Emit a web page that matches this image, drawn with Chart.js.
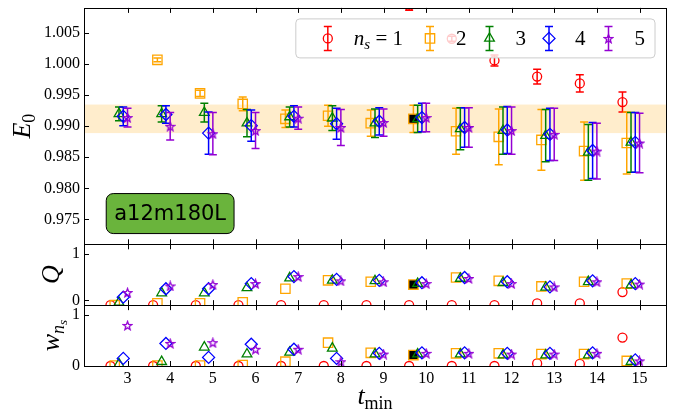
<!DOCTYPE html>
<html>
<head>
<meta charset="utf-8">
<script src="https://cdn.jsdelivr.net/npm/chart.js@4.4.1/dist/chart.umd.min.js"></script>
<style>
  html, body { margin: 0; padding: 0; background: #fff; }
  #wrap { width: 677px; height: 416px; }
</style>
</head>
<body>
<div id="wrap"><canvas id="chart" width="677" height="416"></canvas></div>
<script>
// t_min values and the n_s groups
const tMin = [3, 4, 5, 6, 7, 8, 9, 10, 11, 12, 13, 14, 15];
const nsLabels = ['1', '2', '3', '4', '5'];
const nsShift = [-0.4, -0.3, -0.2, -0.1, 0];
const nsColors = ['red', 'orange', 'green', 'blue', 'darkviolet'];

// E0 fits (null = above the plotted range)
const e0Ns1 = [null, null, null, null, null, null, null, 1.0094, 1.0041, 1.0006, 0.9980, 0.9969, 0.9939];
const e0Ns2 = [null, 1.0007, 0.9953, 0.9936, 0.9912, 0.9917, 0.9905, 0.9912, 0.9892, 0.9883, 0.9878, 0.9860, 0.9873];
const e0Ns3 = [0.9920, 0.9920, 0.9922, 0.9905, 0.9915, 0.9913, 0.9905, 0.9912, 0.9896, 0.9893, 0.9885, 0.9858, 0.9874];
const e0Ns4 = [0.9916, 0.9919, 0.9889, 0.9901, 0.9916, 0.9904, 0.9908, 0.9914, 0.9898, 0.9894, 0.9887, 0.9861, 0.9874];
const e0Ns5 = [0.9914, 0.9900, 0.9888, 0.9893, 0.9913, 0.9898, 0.9906, 0.9914, 0.9898, 0.9893, 0.9887, 0.9860, 0.9873];

const e0ErrNs1 = [null, null, null, null, null, null, null, 0.0007, 0.0004, 0.0009, 0.0012, 0.0014, 0.0016];
const e0ErrNs2 = [null, 0.0003, 0.0005, 0.0011, 0.0014, 0.0017, 0.0021, 0.0022, 0.0037, 0.0045, 0.0049, 0.0047, 0.0050];
const e0ErrNs3 = [0.0011, 0.0013, 0.0015, 0.0022, 0.0016, 0.0020, 0.0023, 0.0022, 0.0034, 0.0038, 0.0042, 0.0045, 0.0048];
const e0ErrNs4 = [0.0015, 0.0014, 0.0034, 0.0025, 0.0017, 0.0025, 0.0022, 0.0023, 0.0032, 0.0038, 0.0042, 0.0045, 0.0048];
const e0ErrNs5 = [0.0015, 0.0022, 0.0034, 0.0029, 0.0018, 0.0029, 0.0022, 0.0023, 0.0032, 0.0038, 0.0042, 0.0045, 0.0048];

// fit quality Q
const qNs1 = [-0.1, -0.1, -0.1, -0.1, -0.1, -0.1, -0.1, -0.1, -0.1, -0.1, -0.06, -0.06, 0.18];
const qNs2 = [-0.1, -0.06, -0.06, -0.04, 0.25, 0.43, 0.40, 0.34, 0.49, 0.42, 0.30, 0.40, 0.36];
const qNs3 = [-0.04, 0.16, 0.16, 0.27, 0.48, 0.43, 0.42, 0.36, 0.47, 0.38, 0.28, 0.40, 0.33];
const qNs4 = [0.07, 0.25, 0.25, 0.36, 0.51, 0.45, 0.43, 0.38, 0.49, 0.40, 0.29, 0.42, 0.36];
const qNs5 = [0.17, 0.31, 0.34, 0.36, 0.51, 0.42, 0.40, 0.36, 0.47, 0.36, 0.29, 0.40, 0.35];

// model weights w_ns
const wNs1 = [0, 0, 0, 0, 0, 0, 0, 0, 0, 0, 0.05, 0.04, 0.56];
const wNs2 = [0.01, 0.01, 0.01, 0.02, 0.085, 0.46, 0.26, 0.215, 0.25, 0.25, 0.235, 0.235, 0.10];
const wNs3 = [0.04, 0.085, 0.37, 0.235, 0.27, 0.35, 0.235, 0.235, 0.235, 0.215, 0.215, 0.215, 0.085];
const wNs4 = [0.15, 0.445, 0.17, 0.43, 0.33, 0.15, 0.25, 0.26, 0.26, 0.25, 0.25, 0.26, 0.12];
const wNs5 = [0.80, 0.445, 0.46, 0.33, 0.33, 0.085, 0.235, 0.25, 0.25, 0.235, 0.235, 0.25, 0.10];

const chosenNs = 1;      // index of n_s = 2
const chosenT = 10;
const band = [0.9889, 0.9935];

const xTicks = [3, 4, 5, 6, 7, 8, 9, 10, 11, 12, 13, 14, 15];
const e0Ticks = [0.975, 0.980, 0.985, 0.990, 0.995, 1.000, 1.005];
const qTicks = [0, 1];
const wTicks = [0, 1];
const fitLabel = 'a12m180L';

const e0Series = [e0Ns1, e0Ns2, e0Ns3, e0Ns4, e0Ns5];
const e0ErrSeries = [e0ErrNs1, e0ErrNs2, e0ErrNs3, e0ErrNs4, e0ErrNs5];
const qSeries = [qNs1, qNs2, qNs3, qNs4, qNs5];
const wSeries = [wNs1, wNs2, wNs3, wNs4, wNs5];

const makeStar = (size, color) => {
  const c = document.createElement('canvas');
  c.width = size;
  c.height = size;
  const g = c.getContext('2d');
  const cx = size / 2, cy = size / 2 + 0.5, R = size / 2 - 1, r = R * 0.42;
  g.beginPath();
  for (let k = 0; k < 10; k++) {
    const rad = k % 2 ? r : R;
    const a = -Math.PI / 2 + k * Math.PI / 5;
    g.lineTo(cx + rad * Math.cos(a), cy + rad * Math.sin(a));
  }
  g.closePath();
  g.strokeStyle = color;
  g.lineWidth = 1.3;
  g.stroke();
  return c;
};

const starImg = makeStar(11, 'darkviolet');
const markerStyles = ['circle', 'rect', 'triangle', 'rectRot', starImg];
const markerRadius = [4.5, 6.6, 5.6, 6, 5.5];

const panels = [
  { axis: 'yE', values: e0Series, errors: e0ErrSeries },
  { axis: 'yQ', values: qSeries, errors: null },
  { axis: 'yW', values: wSeries, errors: null },
];

const datasets = [];
panels.forEach((p) => {
  p.values.forEach((vals, i) => {
    datasets.push({
      label: 'n_s = ' + nsLabels[i],
      yAxisID: p.axis,
      data: tMin.map((t, k) => ({ x: t + nsShift[i], y: vals[k] })),
      errors: p.errors ? p.errors[i] : null,
      pointStyle: markerStyles[i],
      pointRadius: markerRadius[i],
      pointBorderColor: nsColors[i],
      pointBackgroundColor: tMin.map((t) => (i === chosenNs && t === chosenT ? 'black' : 'rgba(0,0,0,0)')),
      pointBorderWidth: 1.3,
      showLine: false,
      order: 5 - i,
    });
  });
});

// draw a marker shape for the legend (same shapes as the points)
const drawMarker = (ctx, i, x, y) => {
  const r = markerRadius[i];
  ctx.save();
  ctx.strokeStyle = nsColors[i];
  ctx.lineWidth = 1.3;
  ctx.beginPath();
  if (i === 0) {
    ctx.arc(x, y, r, 0, Math.PI * 2);
  } else if (i === 1) {
    const s = r * Math.SQRT1_2;
    ctx.rect(x - s, y - s, 2 * s, 2 * s);
  } else if (i === 2) {
    ctx.moveTo(x, y - r);
    ctx.lineTo(x + r * 0.866, y + r / 2);
    ctx.lineTo(x - r * 0.866, y + r / 2);
    ctx.closePath();
  } else if (i === 3) {
    ctx.moveTo(x - r, y);
    ctx.lineTo(x, y - r);
    ctx.lineTo(x + r, y);
    ctx.lineTo(x, y + r);
    ctx.closePath();
  }
  if (i === 4) ctx.drawImage(starImg, x - starImg.width / 2, y - starImg.height / 2);
  else ctx.stroke();
  ctx.restore();
};

const errBar = (ctx, x, yTop, yBot, color) => {
  ctx.strokeStyle = color;
  ctx.lineWidth = 1.5;
  ctx.beginPath();
  ctx.moveTo(x, yTop);
  ctx.lineTo(x, yBot);
  ctx.moveTo(x - 4, yTop);
  ctx.lineTo(x + 4, yTop);
  ctx.moveTo(x - 4, yBot);
  ctx.lineTo(x + 4, yBot);
  ctx.stroke();
};

// text with italic letters and subscripts: parts = [text, size, italic, dy]
const mathText = (ctx, parts, x, y, align) => {
  let total = 0;
  const widths = parts.map((p) => {
    ctx.font = (p[2] ? 'italic ' : '') + p[1] + "px 'Liberation Serif', serif";
    const w = ctx.measureText(p[0]).width;
    total += w;
    return w;
  });
  let cx = align === 'center' ? x - total / 2 : x;
  parts.forEach((p, k) => {
    ctx.font = (p[2] ? 'italic ' : '') + p[1] + "px 'Liberation Serif', serif";
    ctx.fillText(p[0], cx, y + (p[3] || 0));
    cx += widths[k];
  });
  return total;
};

const decor = {
  id: 'decor',
  beforeDatasetsDraw(chart) {
    const { ctx, chartArea: a, scales } = chart;
    const ys = scales.yE;
    ctx.save();
    ctx.fillStyle = 'rgba(255,165,0,0.2)';
    const y1 = ys.getPixelForValue(band[1]);
    const y2 = ys.getPixelForValue(band[0]);
    ctx.fillRect(a.left, y1, a.right - a.left, y2 - y1);
    ctx.restore();
  },
  beforeDatasetDraw(chart, args) {
    const { ctx, chartArea: a, scales } = chart;
    const ds = chart.data.datasets[args.index];
    const ys = scales[ds.yAxisID];
    ctx.save();
    ctx.beginPath();
    ctx.rect(a.left, ys.top, a.right - a.left, ys.bottom - ys.top);
    ctx.clip();
    if (ds.errors) {
      ds.data.forEach((pt, k) => {
        if (pt.y === null || ds.errors[k] === null) return;
        const x = scales.x.getPixelForValue(pt.x);
        errBar(ctx, x, ys.getPixelForValue(pt.y + ds.errors[k]), ys.getPixelForValue(pt.y - ds.errors[k]), ds.pointBorderColor);
      });
    }
  },
  afterDatasetDraw(chart) {
    chart.ctx.restore();
  },
  afterDraw(chart) {
    const { ctx, chartArea: a, scales } = chart;
    const px = (v) => Math.round(v) + 0.5;
    ctx.save();
    ctx.strokeStyle = '#000';
    ctx.lineWidth = 1;
    ['yE', 'yQ', 'yW'].forEach((id) => {
      const s = scales[id];
      ctx.strokeRect(px(a.left), px(s.top), Math.round(a.right - a.left), Math.round(s.bottom - s.top));
      ctx.beginPath();
      xTicks.forEach((t) => {
        const x = px(scales.x.getPixelForValue(t));
        ctx.moveTo(x, s.top);
        ctx.lineTo(x, s.top + 5);
        ctx.moveTo(x, s.bottom);
        ctx.lineTo(x, s.bottom - 5);
      });
      s.ticks.forEach((t) => {
        const y = px(s.getPixelForValue(t.value));
        ctx.moveTo(a.left, y);
        ctx.lineTo(a.left + 5, y);
      });
      ctx.stroke();
    });

    // axis titles
    ctx.fillStyle = '#000';
    ctx.textBaseline = 'alphabetic';
    const rot = (x, y, parts) => {
      ctx.save();
      ctx.translate(x, y);
      ctx.rotate(-Math.PI / 2);
      mathText(ctx, parts, 0, 0, 'center');
      ctx.restore();
    };
    rot(30, (scales.yE.top + scales.yE.bottom) / 2, [['E', 26, true], ['0', 18, false, 5]]);
    rot(59, (scales.yQ.top + scales.yQ.bottom) / 2, [['Q', 26, true]]);
    rot(59, (scales.yW.top + scales.yW.bottom) / 2, [['w', 26, true], ['n', 18, true, 5], ['s', 13, true, 8]]);
    mathText(ctx, [['t', 26, true], ['min', 18, false, 5]], (a.left + a.right) / 2, 404, 'center');

    // fit label box
    const e = scales.yE;
    const cx = a.left + 0.148 * (a.right - a.left);
    const cy = e.bottom - 0.13 * (e.bottom - e.top);
    ctx.font = "21px 'DejaVu Sans', sans-serif";
    const tw = ctx.measureText(fitLabel).width;
    const bw = tw + 16, bh = 40;
    ctx.beginPath();
    ctx.roundRect(cx - bw / 2, cy - bh / 2, bw, bh, 7);
    ctx.fillStyle = '#6ab43c';
    ctx.fill();
    ctx.lineWidth = 1;
    ctx.strokeStyle = '#000';
    ctx.stroke();
    ctx.fillStyle = '#000';
    ctx.textAlign = 'center';
    ctx.textBaseline = 'middle';
    ctx.fillText(fitLabel, cx, cy + 1);

    // legend
    ctx.textAlign = 'left';
    ctx.textBaseline = 'alphabetic';
    const labelParts = [
      [['n', 21, true], ['s', 15, true, 4], [' = 1', 21, false]],
      [['2', 21, false]], [['3', 21, false]], [['4', 21, false]], [['5', 21, false]],
    ];
    const widths = labelParts.map((parts) => {
      let w = 0;
      parts.forEach((p) => {
        ctx.font = (p[2] ? 'italic ' : '') + p[1] + "px 'Liberation Serif', serif";
        w += ctx.measureText(p[0]).width;
      });
      return w;
    });
    const inner = 36 + widths.reduce((s, w) => s + 26 + w, 0) + 23 * 4 + 10;
    const lx = a.right - 11 - inner, ly = a.top + 11, lh = 39;
    ctx.beginPath();
    ctx.roundRect(lx, ly, inner, lh, 4);
    ctx.fillStyle = 'rgba(255,255,255,0.8)';
    ctx.fill();
    ctx.strokeStyle = '#cccccc';
    ctx.stroke();
    let mx = lx + 32;
    const my = ly + lh / 2;
    labelParts.forEach((parts, i) => {
      errBar(ctx, mx, my - 12, my + 12, nsColors[i]);
      drawMarker(ctx, i, mx, my);
      ctx.fillStyle = '#000';
      const w = mathText(ctx, parts, mx + 26, my + 7, 'left');
      mx += 26 + w + (i === 0 ? 27 : 23);
    });
    ctx.restore();
  },
};

const noPad = (s) => {
  s.paddingTop = 0;
  s.paddingBottom = 0;
  s.paddingLeft = 0;
  s.paddingRight = 0;
};

const yCommon = {
  type: 'linear',
  position: 'left',
  stack: 'panels',
  grid: { display: false, drawTicks: false },
  border: { display: false },
  ticks: { padding: 4, color: '#000', font: { size: 16 } },
  afterFit: (s) => { s.width = 84; noPad(s); },
};

Chart.defaults.font.family = "'Liberation Serif', serif";
Chart.defaults.font.size = 16;
Chart.defaults.color = '#000';

new Chart(document.getElementById('chart'), {
  type: 'scatter',
  data: { datasets },
  options: {
    responsive: false,
    animation: false,
    layout: { padding: { top: 7, right: 11, left: 0, bottom: 0 } },
    plugins: { legend: { display: false }, tooltip: { enabled: false } },
    scales: {
      x: {
        type: 'linear',
        min: 1.98,
        max: 15.62,
        grid: { display: false, drawTicks: false },
        border: { display: false },
        afterBuildTicks: (s) => { s.ticks = xTicks.map((v) => ({ value: v })); },
        ticks: { callback: (v) => String(v), autoSkip: false, maxRotation: 0, padding: 3, color: '#000', font: { size: 16 } },
        afterFit: (s) => { s.height = 50; noPad(s); },
      },
      yW: {
        ...yCommon,
        stackWeight: 61,
        min: 0,
        max: 1.2,
        afterBuildTicks: (s) => { s.ticks = wTicks.map((v) => ({ value: v })); },
        ticks: { ...yCommon.ticks, callback: (v) => String(v) },
      },
      yQ: {
        ...yCommon,
        stackWeight: 61,
        min: -0.1,
        max: 1.2,
        afterBuildTicks: (s) => { s.ticks = qTicks.map((v) => ({ value: v })); },
        ticks: { ...yCommon.ticks, callback: (v) => String(v) },
      },
      yE: {
        ...yCommon,
        stackWeight: 237,
        min: 0.97098,
        max: 1.00907,
        afterBuildTicks: (s) => { s.ticks = e0Ticks.map((v) => ({ value: v })); },
        ticks: { ...yCommon.ticks, callback: (v) => v.toFixed(3) },
      },
    },
  },
  plugins: [decor],
});
</script>
</body>
</html>
